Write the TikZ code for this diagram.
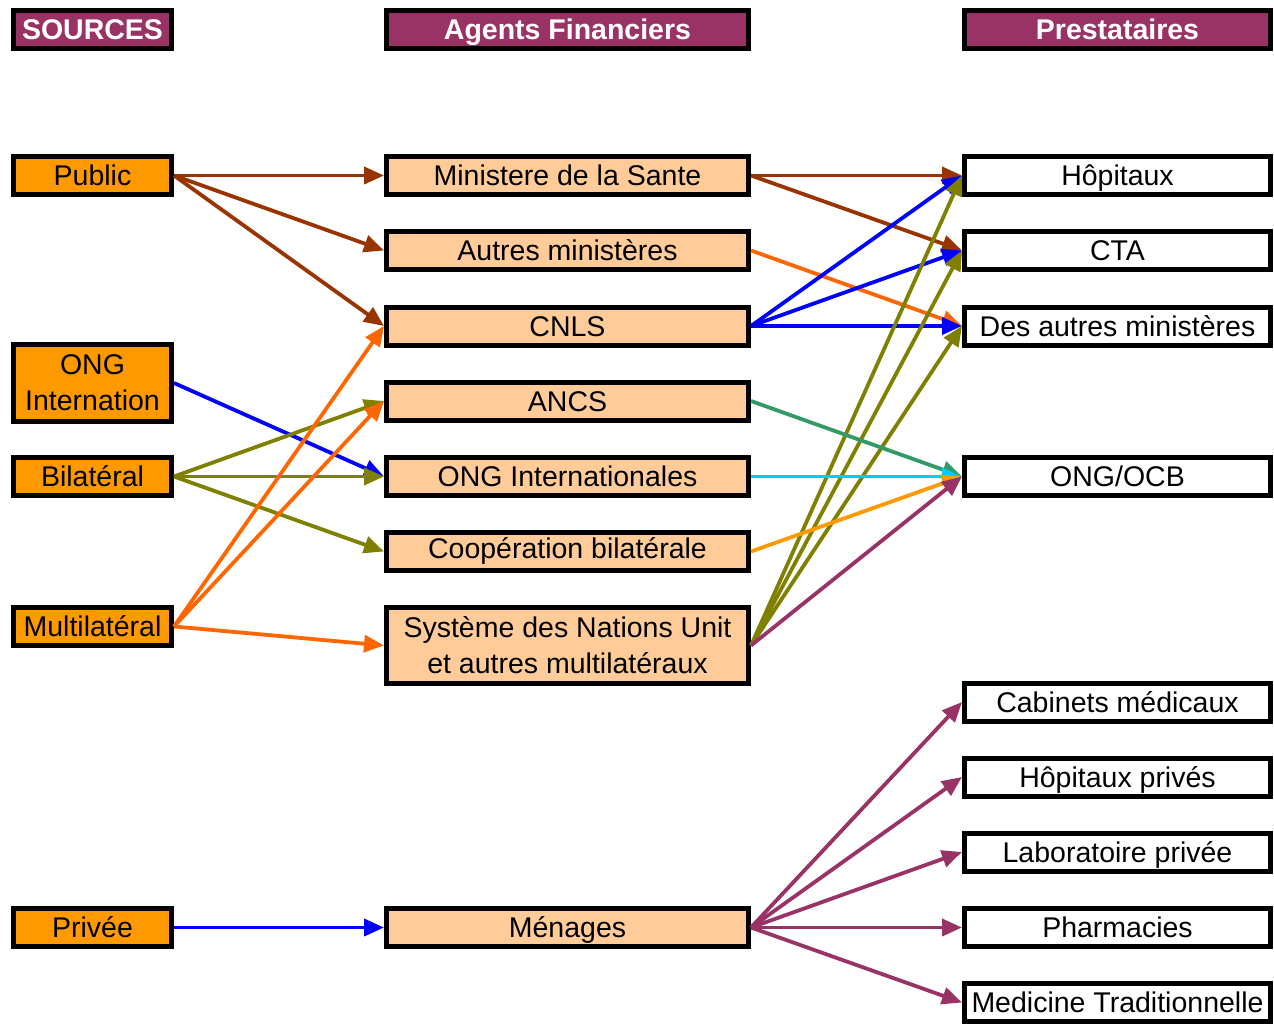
\documentclass[tikz,border=0pt]{standalone}
\usepackage{fontspec}
\setmainfont{Liberation Sans}
\usetikzlibrary{arrows.meta}
\definecolor{hdr}{HTML}{993366}
\definecolor{src}{HTML}{FF9900}
\definecolor{agt}{HTML}{FFCC99}
\definecolor{cbrown}{HTML}{993300}
\definecolor{colive}{HTML}{808000}
\definecolor{corange}{HTML}{FF6600}
\definecolor{cblue}{HTML}{0000FF}
\definecolor{cgreen}{HTML}{339966}
\definecolor{ccyan}{HTML}{00CCFF}
\definecolor{cgold}{HTML}{FF9900}
\definecolor{cpurple}{HTML}{993366}
\begin{document}
\begin{tikzpicture}[x=1pt,y=-1pt,
 box/.style={draw=black, line width=5pt, inner sep=0pt, minimum height=38pt, align=center, font=\fontsize{28.5}{36}\selectfont},
 one/.style={text height=25pt, text depth=5pt},
 c1/.style={minimum width=158pt},
 c2/.style={minimum width=362pt},
 c3/.style={minimum width=306pt},
 hbox/.style={box, one, fill=hdr, text=white, font=\fontsize{28.5}{36}\selectfont\bfseries},
 srcbox/.style={box,c1,fill=src},
 agtbox/.style={box,c2,fill=agt},
 prvbox/.style={box,c3,fill=white},
 link/.style={line width=3.8pt, -{Triangle[length=20pt,width=17pt]}},
]
\useasboundingbox (0,0) rectangle (1274,1024);
% headers
\node[hbox,c1] (h1) at (92.5,29.5) {SOURCES};
\node[hbox,c2] (h2) at (567.5,29.5) {Agents Financiers};
\node[hbox,c3] (h3) at (1117.5,29.5) {Prestataires};
% sources
\node[srcbox,one] (pub) at (92.5,175.5) {Public};
\node[srcbox,minimum height=77pt] (ongi) at (92.5,383) {ONG\\Internation};
\node[srcbox,one] (bil) at (92.5,476.5) {Bilatéral};
\node[srcbox,one] (mul) at (92.5,626.5) {Multilatéral};
\node[srcbox,one] (prv) at (92.5,927.5) {Privée};
% agents
\node[agtbox,one] (min) at (567.5,175.5) {Ministere de la Sante};
\node[agtbox,one] (aut) at (567.5,250.5) {Autres ministères};
\node[agtbox,one] (cnls) at (567.5,326) {CNLS};
\node[agtbox,one] (ancs) at (567.5,401) {ANCS};
\node[agtbox,one] (ongint) at (567.5,476.5) {ONG Internationales};
\node[agtbox,text height=22pt,text depth=8pt] (coop) at (567.5,551.5) {Coopération bilatérale};
\node[agtbox,minimum height=76pt] (sys) at (567.5,645.5) {Système des Nations Unit\\et autres multilatéraux};
\node[agtbox,one] (men) at (567.5,927.5) {Ménages};
% prestataires
\node[prvbox,one] (hop) at (1117.5,175.5) {Hôpitaux};
\node[prvbox,one] (cta) at (1117.5,250.5) {CTA};
\node[prvbox,one] (dam) at (1117.5,326) {Des autres ministères};
\node[prvbox,one] (ocb) at (1117.5,476.5) {ONG/OCB};
\node[prvbox,one] (cab) at (1117.5,702) {Cabinets médicaux};
\node[prvbox,one] (hpv) at (1117.5,777) {Hôpitaux privés};
\node[prvbox,one] (lab) at (1117.5,852) {Laboratoire privée};
\node[prvbox,one] (pha) at (1117.5,927.5) {Pharmacies};
\node[prvbox,one] (med) at (1117.5,1002.5) {Medicine Traditionnelle};
% sources -> agents
\draw[link,cbrown] (pub.east) -- (min.west);
\draw[link,cbrown] (pub.east) -- (aut.west);
\draw[link,cbrown] (pub.east) -- (cnls.west);
\draw[link,cblue] (ongi.east) -- (ongint.west);
\draw[link,colive] (bil.east) -- (ancs.west);
\draw[link,colive] (bil.east) -- (ongint.west);
\draw[link,colive] (bil.east) -- (coop.west);
\draw[link,corange] (mul.east) -- (cnls.west);
\draw[link,corange] (mul.east) -- (ancs.west);
\draw[link,corange] (mul.east) -- (sys.west);
\draw[link,cblue] (prv.east) -- (men.west);
% agents -> prestataires
\draw[link,cbrown] (min.east) -- (hop.west);
\draw[link,cbrown] (min.east) -- (cta.west);
\draw[link,corange] (aut.east) -- (dam.west);
\draw[link,cblue] (cnls.east) -- (hop.west);
\draw[link,cblue] (cnls.east) -- (cta.west);
\draw[link,cblue] (cnls.east) -- (dam.west);
\draw[link,colive] (sys.east) -- (hop.west);
\draw[link,colive] (sys.east) -- (cta.west);
\draw[link,colive] (sys.east) -- (dam.west);
\draw[link,cgreen] (ancs.east) -- (ocb.west);
\draw[link,ccyan] (ongint.east) -- (ocb.west);
\draw[link,cgold] (coop.east) -- (ocb.west);
\draw[link,cpurple] (sys.east) -- (ocb.west);
\draw[link,cpurple] (men.east) -- (cab.west);
\draw[link,cpurple] (men.east) -- (hpv.west);
\draw[link,cpurple] (men.east) -- (lab.west);
\draw[link,cpurple] (men.east) -- (pha.west);
\draw[link,cpurple] (men.east) -- (med.west);
\end{tikzpicture}
\end{document}
